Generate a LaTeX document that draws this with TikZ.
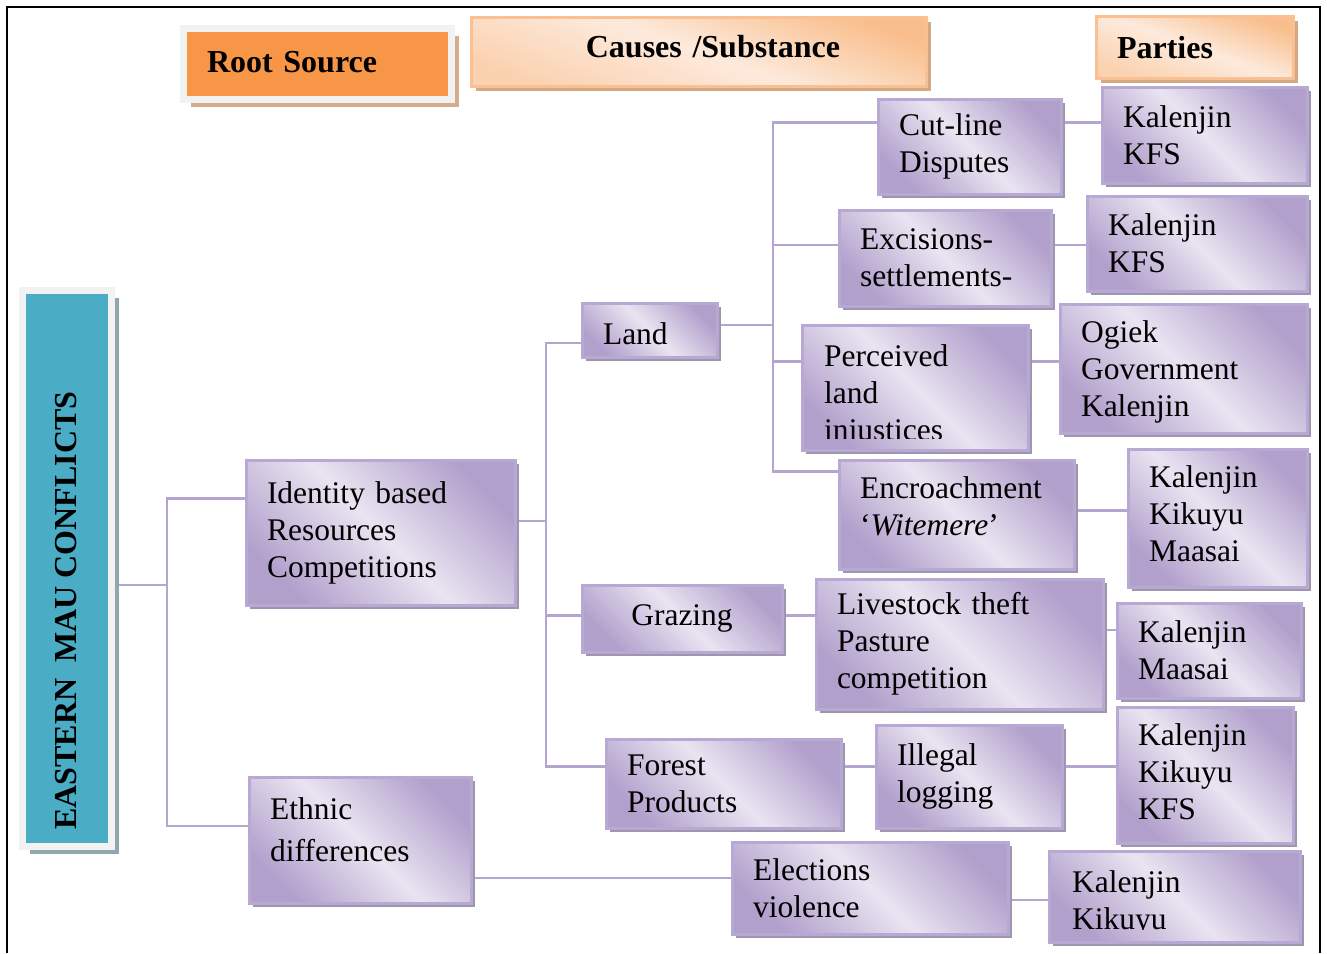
\documentclass[tikz,border=0pt]{standalone}
\usepackage{fontspec}
\setmainfont{Liberation Serif}
\usetikzlibrary{shadows,backgrounds}

\definecolor{boxdark}{RGB}{178,160,204}
\definecolor{boxlight}{RGB}{233,228,241}
\definecolor{boxedge}{RGB}{184,168,212}
\definecolor{boxshade}{RGB}{158,150,172}
\definecolor{linkcol}{RGB}{180,164,208}
\definecolor{hdrdark}{RGB}{249,190,140}
\definecolor{hdrlight}{RGB}{253,234,220}
\definecolor{hdredge}{RGB}{249,193,147}
\definecolor{hdrshade}{RGB}{214,168,130}
\definecolor{rootorange}{RGB}{247,150,70}
\definecolor{rootblue}{RGB}{75,172,198}
\definecolor{framegray}{RGB}{242,242,242}
\definecolor{tanshade}{RGB}{212,172,142}
\definecolor{blueshade}{RGB}{146,166,176}

% extra depth on the last line pushes a centred text block upwards,
% extra height on the first line pushes it downwards
\newcommand\lifttext[1]{\rule[-#1]{0pt}{0pt}}
\newcommand\droptext[1]{\rule{0pt}{#1}}

\tikzset{
  cause/.style={anchor=north west, outer sep=0pt, draw=boxedge, line width=3pt,
    top color=boxdark, bottom color=boxdark, middle color=boxlight, shading angle=-45,
    general shadow={fill=boxshade, shadow xshift=4pt, shadow yshift=-4pt},
    inner xsep=21pt, inner ysep=0pt, align=left,
    font=\fontsize{31.5}{37}\selectfont},
  header/.style={anchor=north west, outer sep=0pt, draw=hdredge, line width=3pt,
    top color=hdrdark, bottom color=hdrdark!55!hdrlight, middle color=hdrlight, shading angle=-20,
    general shadow={fill=hdrshade, shadow xshift=4pt, shadow yshift=-4pt},
    inner ysep=0pt, font=\bfseries\fontsize{32}{38}\selectfont},
  rootbox/.style={anchor=north west, outer sep=0pt, draw=framegray, line width=7pt,
    inner ysep=0pt, font=\bfseries\fontsize{32}{38}\selectfont},
  link/.style={draw=linkcol, line width=2.5pt},
  plain/.style={anchor=north west, inner sep=0pt, align=left,
    font=\fontsize{31.5}{37}\selectfont}
}

\begin{document}
\begin{tikzpicture}[x=1pt, y=-1pt]
  \useasboundingbox (0,0) rectangle (1327,953);
  % page frame
  \draw[line width=2pt] (7,953) -- (7,7) -- (1320,7) -- (1320,953);

  % column headers
  \node[rootbox, fill=rootorange, general shadow={fill=tanshade, shadow xshift=7pt, shadow yshift=-7pt},
    minimum width=268, minimum height=71, inner xsep=23.5pt, text width=221pt, align=left]
    (rootsrc) at (183.5,28.5) {Root Source\lifttext{5pt}};
  \node[header, minimum width=455, minimum height=69, text width=415pt, align=center]
    (causes) at (471.5,17.5) {\hspace*{28pt}Causes /Substance\lifttext{11pt}};
  \node[header, minimum width=197, minimum height=62, inner xsep=20.5pt, text width=156pt, align=left]
    (parties) at (1096.5,16.5) {Parties};

  % root of the tree
  \node[rootbox, fill=rootblue, general shadow={fill=blueshade, shadow xshift=7pt, shadow yshift=-7pt},
    minimum width=89, minimum height=556] (root) at (22.5,290.5) {};
  \node[rotate=90, anchor=west, inner sep=0pt, font=\bfseries\fontsize{32}{38}\selectfont]
    (roottext) at (66,830) {EASTERN\ \ MAU CONFLICTS};

  % second level
  \node[cause, minimum width=269, minimum height=145, text width=227pt] (ident) at (246,460)
    {Identity based\\Resources\\Competitions};
  \node[cause, minimum width=222, minimum height=126] (ethnic) at (249,777) {};
  \node[plain] (ethnictext) at (270,797.5) {Ethnic\\[5pt]differences};

  % resources
  \node[cause, minimum width=135, minimum height=54, text width=93pt] (land) at (582,303)
    {\droptext{29.5pt}Land};
  \node[cause, minimum width=200, minimum height=67, text width=158pt, align=center] (grazing) at (582,585) {Grazing};
  \node[cause, minimum width=235, minimum height=89, text width=193pt] (forest) at (606,739)
    {Forest\\Products};

  % causes
  \node[cause, minimum width=183, minimum height=95, text width=141pt] (cutline) at (878,99)
    {Cut-line\\Disputes};
  \node[cause, minimum width=212, minimum height=96, text width=170pt] (excision) at (839,210)
    {Excisions-\\settlements-};
  \node[cause, minimum width=226, minimum height=125] (perceived) at (802,325) {};
  \begin{scope}
    \clip (perceived.north west) rectangle (1028,438);
    \node[plain] (perceivedtext) at (824,344.5) {Perceived\\land\\injustices};
  \end{scope}
  \node[cause, minimum width=235, minimum height=109, text width=193pt] (encroach) at (839,460)
    {Encroachment\\`\textit{Witemere}'\lifttext{16pt}};
  \node[cause, minimum width=287, minimum height=130, text width=245pt] (livestock) at (816,579)
    {Livestock theft\\Pasture\\competition};
  \node[cause, minimum width=186, minimum height=103, text width=144pt] (logging) at (876,725)
    {Illegal\\logging};
  \node[cause, minimum width=276, minimum height=92, text width=234pt] (election) at (732,842)
    {Elections\\violence};

  % parties
  \node[cause, minimum width=205, minimum height=96, text width=163pt] (partyA) at (1102,87)
    {Kalenjin\\KFS};
  \node[cause, minimum width=220, minimum height=95, text width=178pt] (partyB) at (1087,196)
    {Kalenjin\\KFS};
  \node[cause, minimum width=247, minimum height=129, text width=205pt] (partyC) at (1060,304)
    {\droptext{29.5pt}Ogiek\\Government\\Kalenjin};
  \node[cause, minimum width=179, minimum height=138, text width=137pt] (partyD) at (1128,449)
    {Kalenjin\\Kikuyu\\Maasai\lifttext{8pt}};
  \node[cause, minimum width=184, minimum height=95, text width=142pt] (partyE) at (1117,603)
    {Kalenjin\\Maasai};
  \node[cause, minimum width=176, minimum height=136, text width=134pt] (partyF) at (1117,707)
    {Kalenjin\\Kikuyu\\KFS\lifttext{6pt}};
  \node[cause, minimum width=251, minimum height=91] (partyG) at (1049,851) {};
  \begin{scope}
    \clip (partyG.north west) rectangle (1300,929);
    \node[plain] (partyGtext) at (1072,870.5) {Kalenjin\\Kikuyu};
  \end{scope}

  % connectors
  \begin{scope}[on background layer]
    \coordinate (rootbus) at (167,585);
    \coordinate (identbus) at (546,521);
    \coordinate (landbus) at (773,325);
    \draw[link] (rootbus) -- (rootbus -| root.east);
    \draw[link] ([yshift=34]ident.west) -| (rootbus);
    \draw[link] ([yshift=14]ethnic.west) -| (rootbus);
    \draw[link] (identbus) -- (identbus -| ident.east);
    \draw[link] ([yshift=-13]land.west) -| (identbus);
    \draw[link] ([yshift=3]grazing.west) -| (identbus);
    \draw[link] ([yshift=17]forest.west) -| (identbus);
    \draw[link] (landbus) -- (landbus -| land.east);
    \draw[link] ([yshift=24]cutline.west) -| (landbus);
    \draw[link] ([yshift=13]excision.west) -| (landbus);
    \draw[link] ([yshift=26]perceived.west) -| (landbus);
    \draw[link] ([yshift=43]encroach.west) -| (landbus);
    \draw[link] ([yshift=24]cutline.east) -| (partyA.west);
    \draw[link] ([yshift=13]excision.east) -| (partyB.west);
    \draw[link] ([yshift=26]perceived.east) -| (partyC.west);
    \draw[link] ([yshift=4]encroach.east) -| (partyD.west);
    \draw[link] ([yshift=3]grazing.east) -| (livestock.west);
    \draw[link] ([yshift=14]livestock.east) -| (partyE.west);
    \draw[link] ([yshift=17]forest.east) -| (logging.west);
    \draw[link] ([yshift=10]logging.east) -| (partyF.west);
    \draw[link] ([yshift=-38]ethnic.east) -| (election.west);
    \draw[link] ([yshift=-12]election.east) -| (partyG.west);
  \end{scope}
\end{tikzpicture}
\end{document}
